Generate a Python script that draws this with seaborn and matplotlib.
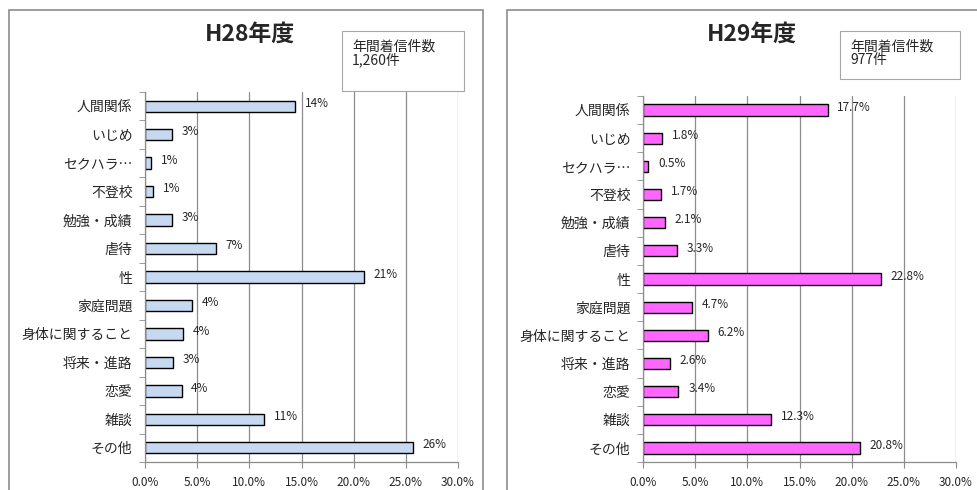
import numpy as np
import pandas as pd
import seaborn as sns
import matplotlib.pyplot as plt
from matplotlib.patches import Rectangle
from matplotlib.ticker import FuncFormatter, FixedLocator

sns.set_style("white")
plt.rcParams['font.family'] = ['Noto Sans CJK JP', 'DejaVu Sans']

# -----------------------------
# data
# -----------------------------
categories = ["人間関係", "いじめ", "セクハラ…", "不登校", "勉強・成績", "虐待", "性",
              "家庭問題", "身体に関すること", "将来・進路", "恋愛", "雑談", "その他"]
h28_values = [14.4, 2.6, 0.6, 0.8, 2.6, 6.8, 21.0, 4.5, 3.6, 2.7, 3.5, 11.4, 25.7]
h28_labels = ["14%", "3%", "1%", "1%", "3%", "7%", "21%", "4%", "4%", "3%", "4%", "11%", "26%"]
h29_values = [17.7, 1.8, 0.5, 1.7, 2.1, 3.3, 22.8, 4.7, 6.2, 2.6, 3.4, 12.3, 20.8]
h29_labels = ["17.7%", "1.8%", "0.5%", "1.7%", "2.1%", "3.3%", "22.8%", "4.7%", "6.2%",
              "2.6%", "3.4%", "12.3%", "20.8%"]
x_ticks = [0, 5, 10, 15, 20, 25, 30]

panels = [
    dict(title="H28年度", count="年間着信件数\n1,260件", values=h28_values, labels=h28_labels,
         color="#C6D9F1", ax_rect=[145/977, 1-462/490, 313/977, 370/490],
         frame=(9, 10, 474, 490), title_x=250, box=(342, 31, 122, 60)),
    dict(title="H29年度", count="年間着信件数\n977件", values=h29_values, labels=h29_labels,
         color="#FF66FF", ax_rect=[643/977, 1-462/490, 313/977, 366/490],
         frame=(507, 10, 480, 490), title_x=752, box=(840, 31, 120, 48)),
]

fig = plt.figure(figsize=(9.77, 4.9), dpi=100)

for p in panels:
    # outer frame of each chart
    fx, fy, fw, fh = p["frame"]
    fig.patches.append(Rectangle((fx/977, 1-(fy+fh)/490), fw/977, fh/490,
                                 transform=fig.transFigure, fill=False,
                                 edgecolor="#8C8C8C", linewidth=1.2))
    # count box
    bx, by, bw, bh = p["box"]
    fig.patches.append(Rectangle((bx/977, 1-(by+bh)/490), bw/977, bh/490,
                                 transform=fig.transFigure, fill=False,
                                 edgecolor="#A6A6A6", linewidth=0.8))
    fig.text((bx+10)/977, 1-(by+9)/490, p["count"], fontsize=10, va="top",
             ha="left", linespacing=0.9)
    fig.text(p["title_x"]/977, 1-34/490, p["title"], fontsize=16.5, ha="center",
             va="center", fontweight="semibold")

    ax = fig.add_axes(p["ax_rect"])
    df = pd.DataFrame({"cat": categories, "val": p["values"]})
    sns.barplot(data=df, x="val", y="cat", orient="h", color=p["color"],
                width=0.4, edgecolor="black", linewidth=1.0, saturation=1, ax=ax)

    ax.set_xlim(0, 30)
    ax.set_ylim(len(categories) - 0.5, -0.5)
    ax.xaxis.set_major_locator(FixedLocator(x_ticks))
    ax.xaxis.set_major_formatter(FuncFormatter(lambda v, pos: f"{v:.1f}%"))
    ax.grid(axis="x", color="#8C8C8C", linewidth=0.9)
    ax.set_axisbelow(True)
    ax.set_xlabel("")
    ax.set_ylabel("")
    for s in ["top", "right"]:
        ax.spines[s].set_visible(False)
    for s in ["left", "bottom"]:
        ax.spines[s].set_color("#8C8C8C")
        ax.spines[s].set_linewidth(0.9)

    # category boundary ticks on the y axis
    ax.yaxis.set_minor_locator(FixedLocator(np.arange(-0.5, len(categories), 1)))
    ax.tick_params(axis="y", which="major", length=0, labelsize=10, pad=9)
    ax.tick_params(axis="y", which="minor", left=True, length=4, color="#8C8C8C")
    ax.tick_params(axis="x", bottom=True, length=4, color="#8C8C8C",
                   labelsize=8.5, pad=6)

    for i, (v, lab) in enumerate(zip(p["values"], p["labels"])):
        ax.annotate(lab, (v, i), xytext=(7, 2), textcoords="offset points",
                    fontsize=8.5, ha="left", va="center")

fig.savefig("out.png", dpi=100)
